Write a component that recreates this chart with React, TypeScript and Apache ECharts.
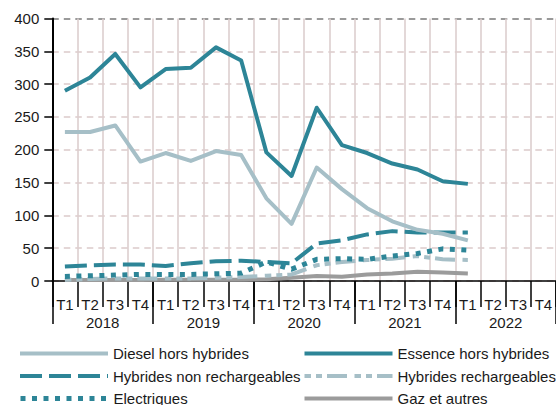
import React, { useEffect, useRef } from "react";
import * as echarts from "echarts";

const years = ["2018", "2019", "2020", "2021", "2022"];
const quarters = ["T1", "T2", "T3", "T4"];
const categories = years.flatMap((y) => quarters.map((q) => `${q} ${y}`));
const yTicks = [0, 50, 100, 150, 200, 250, 300, 350, 400];

const diesel = [227, 227, 237, 182, 195, 183, 198, 192, 126, 87, 173, 140, 111, 91, 78, 72, 62];
const essence = [290, 310, 346, 295, 323, 325, 356, 336, 196, 160, 264, 207, 195, 179, 170, 152, 148];
const hybNonRech = [22, 24, 25, 25, 23, 27, 30, 31, 29, 27, 57, 62, 71, 76, 74, 74, 74];
const hybRech = [2, 3, 4, 4, 4, 4, 5, 6, 8, 10, 24, 29, 32, 34, 38, 33, 32];
const electriques = [7, 8, 9, 10, 10, 10, 11, 12, 29, 18, 33, 34, 33, 38, 42, 49, 47];
const gaz = [1.5, 1.5, 1.5, 1.5, 2, 2, 2, 2, 2.5, 5, 7.5, 6.5, 10, 11.5, 14, 13, 11.5];

const FONT = "'Liberation Sans', Arial, sans-serif";
const TEAL = "#2d8597";
const LIGHT = "#a6bfc7";
const GRAY = "#9b9b9b";

export default function App() {
  const ref = useRef<HTMLDivElement>(null);
  useEffect(() => {
    if (!ref.current) return;
    const chart = echarts.init(ref.current, null, { renderer: "svg" });
    const mk = (name: string, data: number[], color: string, width: number, type: any) => ({
      name,
      type: "line",
      data,
      symbol: "none",
      xAxisIndex: 0,
      yAxisIndex: 0,
      lineStyle: { color, width, type, cap: "butt", join: "round" },
      itemStyle: { color },
      emphasis: { disabled: true },
    });
    const series = [
      mk("Gaz et autres", gaz, GRAY, 4, "solid"),
      mk("Hybrides rechargeables", hybRech, LIGHT, 4, [6.5, 5, 6, 5, 20, 7.5]),
      mk("Electriques", electriques, TEAL, 5, [5, 6.5]),
      mk("Hybrides non rechargeables", hybNonRech, TEAL, 4, [22, 7]),
      mk("Diesel hors hybrides", diesel, LIGHT, 4, "solid"),
      mk("Essence hors hybrides", essence, TEAL, 4, "solid"),
    ];
    const legendItem = (name: string, left: number, center: number, w: number) => ({
      data: [name],
      left,
      top: center - 7,
      orient: "horizontal",
      padding: 0,
      itemWidth: 88,
      itemHeight: 14,
      itemGap: 0,
      selectedMode: false,
      lineStyle: { width: w },
      itemStyle: { color: "rgba(0,0,0,0)", borderColor: "rgba(0,0,0,0)", borderWidth: 0, opacity: 0 },
      textStyle: { fontFamily: FONT, fontSize: 15, color: "#1a1a1a" },
    });
    const splitColors = yTicks.map((v) => (v === 400 ? "#7a7a7a" : "#dccaca"));
    chart.setOption({
      animation: false,
      grid: { left: 52.3, top: 18.5, right: -6.1, bottom: 124, containLabel: false },
      legend: [
        legendItem("Diesel hors hybrides", 18, 353, 4),
        legendItem("Hybrides non rechargeables", 18, 375.5, 4),
        legendItem("Electriques", 18, 398, 5),
        legendItem("Essence hors hybrides", 302.5, 353, 4),
        legendItem("Hybrides rechargeables", 302.5, 375.5, 4),
        legendItem("Gaz et autres", 302.5, 398, 4),
      ],
      xAxis: [
        {
          type: "category",
          data: categories,
          boundaryGap: true,
          position: "bottom",
          axisLine: { show: true, lineStyle: { color: "#000", width: 1.5 } },
          axisTick: { show: true, interval: 0, length: 26, lineStyle: { color: "#000", width: 1.5 } },
          axisLabel: {
            interval: 0,
            margin: 16,
            fontFamily: FONT,
            fontSize: 15,
            color: "#1a1a1a",
            formatter: (v: string) => v.split(" ")[0],
          },
          splitLine: { show: true, interval: 0, lineStyle: { color: "#dccfcf", width: 1.6 } },
        },
        {
          type: "category",
          data: years,
          boundaryGap: true,
          position: "bottom",
          gridIndex: 0,
          axisLine: { show: false },
          axisTick: { show: true, interval: 0, length: 43, lineStyle: { color: "#000", width: 1.5 } },
          axisLabel: { interval: 0, margin: 34, fontFamily: FONT, fontSize: 15, color: "#1a1a1a" },
          splitLine: { show: false },
        },
      ],
      yAxis: {
        type: "value",
        min: 0,
        max: 400,
        interval: 50,
        axisLine: { show: true, lineStyle: { color: "#000", width: 2 } },
        axisTick: { show: true, length: 8, lineStyle: { color: "#000", width: 1.5 } },
        axisLabel: { margin: 13, fontFamily: FONT, fontSize: 15, color: "#1a1a1a" },
        splitLine: { show: true, lineStyle: { color: splitColors, width: 1.5, type: [6.5, 5] } },
      },
      series,
    });
    return () => chart.dispose();
  }, []);
  return (
    <div
      ref={ref}
      style={{ position: "absolute", left: 0, top: 0, width: 556, height: 405, background: "#fff" }}
    />
  );
}
